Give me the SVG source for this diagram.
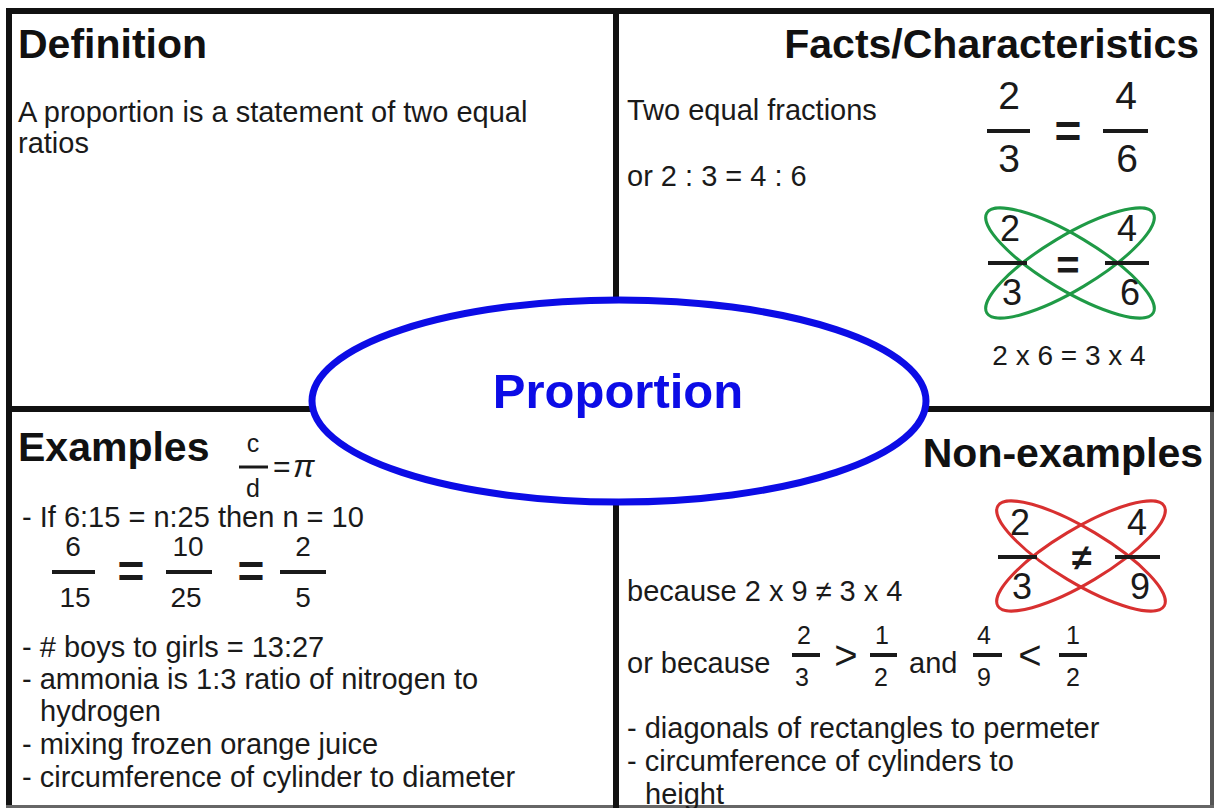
<svg xmlns="http://www.w3.org/2000/svg" width="1214" height="808" viewBox="0 0 1214 808">
<style>
text{font-family:"Liberation Sans",Arial,sans-serif;fill:#1a1a1a}
.h{font-weight:bold;font-size:41px;fill:#111}
.b{font-size:29px}
.fr{font-size:39px;text-anchor:middle}
.cx{font-size:36px;text-anchor:middle}
.sm{font-size:25px;text-anchor:middle}
.md{font-size:28px;text-anchor:middle}
.eq{font-size:46px;font-weight:bold;text-anchor:middle}
.bar{stroke:#1a1a1a;stroke-width:4}
.frame{stroke:#111;stroke-width:6;fill:none}
.gx{fill:none;stroke:#1f9a46;stroke-width:3}
.rx{fill:none;stroke:#d83030;stroke-width:3}
</style>
<rect width="1214" height="808" fill="#fff"/>
<g id="frame">
<line class="frame" x1="6" y1="11" x2="1214" y2="11"/>
<line class="frame" x1="9" y1="8" x2="9" y2="808"/>
<line class="frame" x1="1212" y1="8" x2="1212" y2="409" style="stroke-width:4"/>
<line x1="1212" y1="409" x2="1212" y2="808" stroke="#555" stroke-width="4"/>
<line x1="6" y1="806.5" x2="1214" y2="806.5" stroke="#666" stroke-width="3"/>
<line class="frame" x1="616" y1="8" x2="616" y2="808"/>
<line class="frame" x1="6" y1="409" x2="1214" y2="409"/>
</g>
<g id="connectors"></g>
<g id="definition">
<text class="h" x="18" y="58">Definition</text>
<text class="b" x="18" y="122">A proportion is a statement of two equal</text>
<text class="b" x="18" y="153">ratios</text>
</g>
<g id="facts">
<text class="h" x="1199" y="58" text-anchor="end">Facts/Characteristics</text>
<text class="b" x="627" y="120">Two equal fractions</text>
<text class="b" x="627" y="186">or 2 : 3 = 4 : 6</text>
<text class="fr" x="1009" y="109">2</text>
<line class="bar" x1="987" y1="131" x2="1030" y2="131"/>
<text class="fr" x="1009" y="172">3</text>
<text class="eq" x="1068" y="147">=</text>
<text class="fr" x="1126" y="109">4</text>
<line class="bar" x1="1103" y1="131" x2="1148" y2="131"/>
<text class="fr" x="1127" y="172">6</text>
<ellipse class="gx" cx="1070" cy="263" rx="97" ry="27" transform="rotate(31 1070 263)"/>
<ellipse class="gx" cx="1070" cy="263" rx="97" ry="27" transform="rotate(-31 1070 263)"/>
<text class="cx" x="1010" y="241">2</text>
<text class="cx" x="1127" y="241">4</text>
<text class="cx" x="1012" y="305">3</text>
<text class="cx" x="1130" y="305">6</text>
<line class="bar" x1="988" y1="263" x2="1027" y2="263"/>
<line class="bar" x1="1105" y1="263" x2="1149" y2="263"/>
<text class="eq" x="1068" y="279" style="font-size:40px">=</text>
<text x="1069" y="365" font-size="28" text-anchor="middle">2 x 6 = 3 x 4</text>
</g>
<g id="examples">
<text class="h" x="18" y="461">Examples</text>
<text class="sm" x="253" y="452">c</text>
<line x1="239" y1="467" x2="268" y2="467" stroke="#1a1a1a" stroke-width="3"/>
<text class="sm" x="253" y="497">d</text>
<text x="273" y="477" font-size="30">=</text>
<text x="293" y="477" font-size="32" font-style="italic">π</text>
<text class="b" x="22" y="527">- If 6:15 = n:25 then n = 10</text>
<text class="md" x="73" y="556">6</text>
<line class="bar" x1="52" y1="572" x2="95" y2="572"/>
<text class="md" x="75" y="607">15</text>
<text class="eq" x="131" y="587">=</text>
<text class="md" x="188" y="556">10</text>
<line class="bar" x1="166" y1="572" x2="212" y2="572"/>
<text class="md" x="186" y="607">25</text>
<text class="eq" x="251" y="587">=</text>
<text class="md" x="303" y="556">2</text>
<line class="bar" x1="280" y1="572" x2="326" y2="572"/>
<text class="md" x="303" y="607">5</text>
<text class="b" x="22" y="657">- # boys to girls = 13:27</text>
<text class="b" x="22" y="689">- ammonia is 1:3 ratio of nitrogen to</text>
<text class="b" x="40" y="721">hydrogen</text>
<text class="b" x="22" y="754">- mixing frozen orange juice</text>
<text class="b" x="22" y="787">- circumference of cylinder to diameter</text>
</g>
<g id="nonexamples">
<text class="h" x="1203" y="467" text-anchor="end">Non-examples</text>
<ellipse class="rx" cx="1081" cy="556" rx="97" ry="27" transform="rotate(31 1081 556)"/>
<ellipse class="rx" cx="1081" cy="556" rx="97" ry="27" transform="rotate(-31 1081 556)"/>
<text class="cx" x="1020" y="535">2</text>
<text class="cx" x="1137" y="535">4</text>
<text class="cx" x="1022" y="599">3</text>
<text class="cx" x="1140" y="599">9</text>
<line class="bar" x1="998" y1="557" x2="1037" y2="557"/>
<line class="bar" x1="1115" y1="557" x2="1160" y2="557"/>
<text class="cx" x="1082" y="570" font-weight="bold">≠</text>
<text class="b" x="627" y="601">because 2 x 9 ≠ 3 x 4</text>
<text class="b" x="627" y="673">or because</text>
<text class="sm" x="804" y="644">2</text>
<line class="bar" x1="792" y1="655" x2="820" y2="655"/>
<text class="sm" x="802" y="686">3</text>
<text x="846" y="669" font-size="40" text-anchor="middle">&gt;</text>
<text class="sm" x="882" y="644">1</text>
<line class="bar" x1="870" y1="655" x2="897" y2="655"/>
<text class="sm" x="881" y="686">2</text>
<text class="b" x="909" y="673">and</text>
<text class="sm" x="984" y="644">4</text>
<line class="bar" x1="973" y1="655" x2="1002" y2="655"/>
<text class="sm" x="984" y="686">9</text>
<text x="1030" y="669" font-size="40" text-anchor="middle">&lt;</text>
<text class="sm" x="1073" y="644">1</text>
<line class="bar" x1="1059" y1="655" x2="1087" y2="655"/>
<text class="sm" x="1073" y="686">2</text>
<text class="b" x="627" y="738">- diagonals of rectangles to permeter</text>
<text class="b" x="627" y="771">- circumference of cylinders to</text>
<text class="b" x="645" y="804">height</text>
</g>
<g id="center">
<ellipse cx="619" cy="401" rx="307" ry="101" fill="#fff" stroke="#0c0ce6" stroke-width="7"/>
<text x="618" y="408" font-size="49" font-weight="bold" text-anchor="middle" style="fill:#0c0ce6">Proportion</text>
</g>
</svg>
